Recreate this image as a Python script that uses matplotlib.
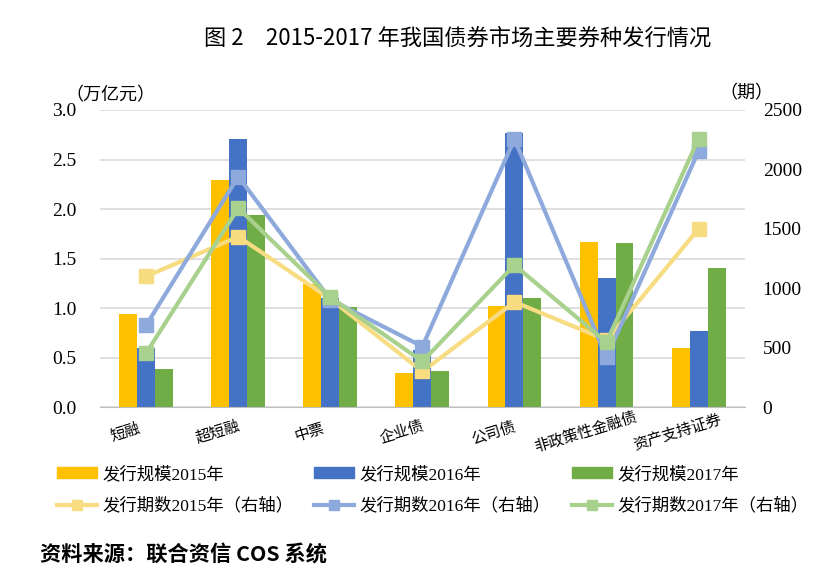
import matplotlib
matplotlib.use("Agg")
import matplotlib.pyplot as plt
import matplotlib.transforms as mtransforms
import numpy as np
from matplotlib.lines import Line2D
from matplotlib.patches import Patch

plt.rcParams['font.family'] = ['Liberation Serif', 'Noto Sans CJK SC', 'DejaVu Sans']

categories = ['短融', '超短融', '中票', '企业债', '公司债', '非政策性金融债', '资产支持证券']
scale_2015 = [0.94, 2.29, 1.24, 0.34, 1.02, 1.67, 0.60]
scale_2016 = [0.60, 2.71, 1.10, 0.58, 2.77, 1.30, 0.77]
scale_2017 = [0.39, 1.94, 1.01, 0.37, 1.10, 1.66, 1.40]
count_2015 = [1100, 1435, 910, 300, 885, 565, 1500]
count_2016 = [690, 1940, 905, 510, 2255, 420, 2155]
count_2017 = [455, 1675, 925, 385, 1195, 545, 2260]
left_ticks = [0.0, 0.5, 1.0, 1.5, 2.0, 2.5, 3.0]
right_ticks = [0, 500, 1000, 1500, 2000, 2500]

bar_colors = ['#FFC000', '#4472C4', '#70AD47']
line_colors = ['#F7DC82', '#8EA9DB', '#A9D18E']
serif = ['Liberation Serif', 'Noto Sans CJK SC']
cjk = ['Noto Sans CJK SC', 'DejaVu Sans']

fig = plt.figure(figsize=(8.21, 5.85), dpi=100)
ax = fig.add_axes([0.122, 0.304, 0.785, 0.508])
ax2 = ax.twinx()

x = np.arange(len(categories))
w = 0.195
for i, (vals, c) in enumerate(zip([scale_2015, scale_2016, scale_2017], bar_colors)):
    ax.bar(x + (i - 1) * w, vals, width=w, color=c, zorder=2)

ax.set_ylim(0, 3.0)
ax.set_xlim(-0.5, len(categories) - 0.5)
ax.set_yticks(left_ticks)
ax.set_yticklabels([f'{v:.1f}' for v in left_ticks])
ax.grid(axis='y', color='#D9D9D9', linewidth=1.2, zorder=0)
ax.set_axisbelow(True)
for s in ['top', 'right', 'left']:
    ax.spines[s].set_visible(False)
ax.spines['bottom'].set_color('#BFBFBF')
ax.tick_params(axis='both', length=0)
ax.tick_params(axis='y', pad=17)
ax.tick_params(axis='x', pad=18)
ax.set_xticks(x)
ax.set_xticklabels(categories, rotation=17, ha='center', va='center', rotation_mode='anchor',
                   fontsize=11, family=cjk)
offset = mtransforms.ScaledTranslation(-0.21, 0, fig.dpi_scale_trans)
for lab in ax.get_xticklabels():
    lab.set_transform(lab.get_transform() + offset)

for vals, c in zip([count_2015, count_2016, count_2017], line_colors):
    ax2.plot(x, vals, color=c, linewidth=3, marker='s', markersize=10, zorder=3)
ax2.set_ylim(0, 2500)
ax2.set_yticks(right_ticks)
ax2.set_yticklabels([str(v) for v in right_ticks])
for s in ['top', 'right', 'left', 'bottom']:
    ax2.spines[s].set_visible(False)
ax2.tick_params(axis='y', length=0, pad=13)

for lab in ax.get_yticklabels() + ax2.get_yticklabels():
    lab.set_fontfamily(serif)
    lab.set_fontsize(14)

fig.text(0.080, 0.838, '（万亿元）', fontsize=13, family=cjk, va='center')
fig.text(0.876, 0.841, '（期）', fontsize=13, family=cjk, va='center')

fig.text(0.557, 0.935, '图 2　2015-2017 年我国债券市场主要券种发行情况', fontsize=16,
         family=cjk, ha='center', va='center')

labels_bar = ['发行规模2015年', '发行规模2016年', '发行规模2017年']
labels_line = ['发行期数2015年（右轴）', '发行期数2016年（右轴）', '发行期数2017年（右轴）']
col_x = [0.070, 0.383, 0.697]
for i in range(3):
    handles = [Patch(color=bar_colors[i]),
               Line2D([], [], color=line_colors[i], lw=3, marker='s', markersize=7)]
    fig.legend(handles, [labels_bar[i], labels_line[i]], loc='center left',
               bbox_to_anchor=(col_x[i], 0.162), frameon=False, prop={'family': serif, 'size': 12.5},
               handlelength=2.3, handleheight=0.55, labelspacing=0.85, handletextpad=0.3,
               borderpad=0, borderaxespad=0)

fig.text(0.049, 0.052, '资料来源：联合资信 COS 系统', fontsize=15.3, fontweight='bold',
         family=cjk, va='center')

fig.savefig('out.png', dpi=100, facecolor='white')
